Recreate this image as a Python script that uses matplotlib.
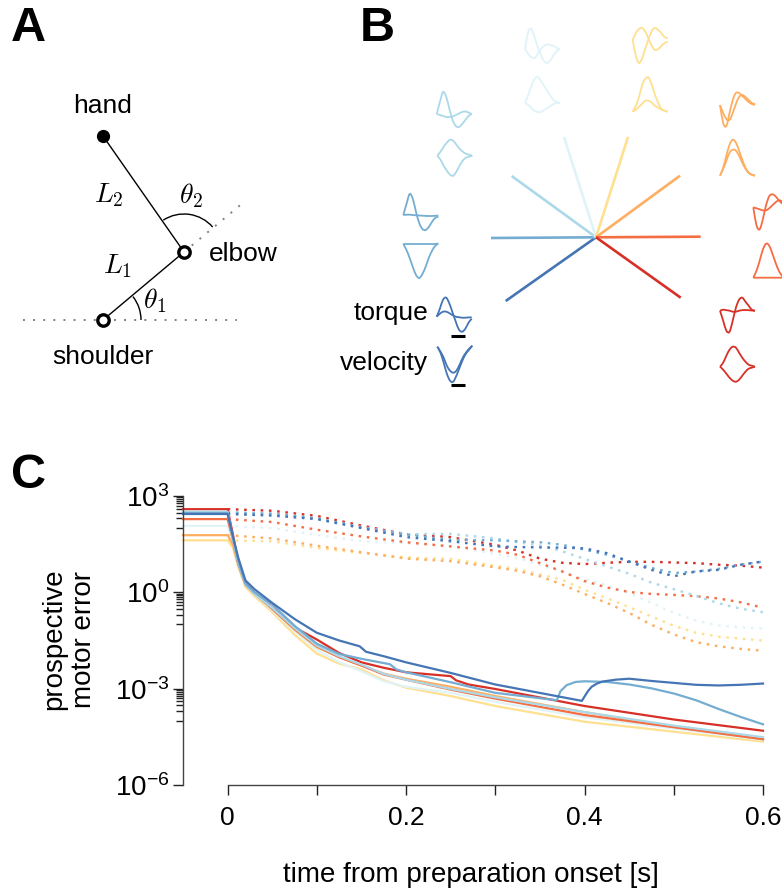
import numpy as np
import matplotlib
matplotlib.use("Agg")
import matplotlib.pyplot as plt
from matplotlib.patches import Arc, PathPatch
from matplotlib.path import Path

plt.rcParams['font.family'] = ['Liberation Sans', 'DejaVu Sans']
plt.rcParams['mathtext.fontset'] = 'cm'

W, H = 782, 892

# ---- reach directions, in the order of the legend fan
colors = {'d1': '#4575b4', 'd2': '#74add1', 'd3': '#abd9e9', 'd4': '#e0f3f8',
          'd5': '#fee090', 'd6': '#fdae61', 'd7': '#f46d43', 'd8': '#d73027'}
draw_order = ['d5', 'd4', 'd6', 'd7', 'd8', 'd3', 'd2', 'd1']

# ---- panel C: log10 prospective motor error, solid curves
t_common = [-.05, 0, .006, .012, .02, .03, .05, .075, .1, .125, .15, .175, .2, .25, .3, .4, .5, .6]
e_d7 = [2.28, 2.28, 1.64, .89, .26, -.02, -.51, -1.14, -1.68, -2.02, -2.28, -2.56, -2.72, -3.03, -3.31, -3.82, -4.20, -4.57]
e_d3 = [2.51, 2.51, 1.64, .89, .24, -.04, -.49, -1.11, -1.66, -1.99, -2.25, -2.54, -2.72, -3.01, -3.27, -3.73, -4.15, -4.51]
e_d6 = [1.78, 1.78, 1.48, .86, .22, -.05, -.52, -1.16, -1.71, -2.02, -2.28, -2.53, -2.69, -2.94, -3.23, -3.73, -4.19, -4.58]
e_d4 = [2.07, 2.07, 1.55, .86, .21, -.07, -.56, -1.21, -1.80, -2.17, -2.46, -2.77, -2.94, -3.13, -3.41, -3.89, -4.24, -4.60]
e_d5 = [1.62, 1.62, 1.38, .79, .17, -.12, -.62, -1.32, -1.91, -2.22, -2.40, -2.74, -2.97, -3.23, -3.54, -4.03, -4.34, -4.65]

t_d8 = [-.05, 0, .006, .012, .02, .03, .05, .075, .1, .125, .15, .175, .2, .25, .256, .27, .3, .4, .5, .6]
e_d8 = [2.59, 2.59, 1.79, .89, .29, 0, -.49, -1.09, -1.47, -1.89, -2.18, -2.35, -2.49, -2.61, -2.74, -2.87, -3.01, -3.54, -3.96, -4.31]

t_d1 = [-.05, 0, .006, .012, .02, .03, .05, .075, .1, .125, .148, .155, .175, .2, .25, .3, .397, .401, .404, .408, .414, .42, .435, .45, .475, .5, .525, .55, .575, .6]
e_d1 = [2.44, 2.44, 1.74, 1.07, .37, .10, -.33, -.83, -1.26, -1.50, -1.68, -1.85, -1.99, -2.18, -2.51, -2.87, -3.38, -3.20, -3.07, -2.94, -2.84, -2.78, -2.72, -2.69, -2.76, -2.82, -2.88, -2.90, -2.88, -2.84]

t_d2 = [-.05, 0, .006, .012, .02, .03, .05, .075, .1, .125, .15, .182, .189, .2, .25, .3, .369, .373, .38, .39, .4, .425, .45, .475, .5, .525, .55, .575, .6]
e_d2 = [2.47, 2.47, 1.69, .96, .27, 0, -.38, -1.04, -1.60, -1.92, -2.07, -2.24, -2.40, -2.49, -2.80, -3.13, -3.36, -3.08, -2.89, -2.79, -2.77, -2.79, -2.87, -2.99, -3.15, -3.36, -3.63, -3.88, -4.11]

solid_t = {'d1': t_d1, 'd2': t_d2, 'd3': t_common, 'd4': t_common, 'd5': t_common,
           'd6': t_common, 'd7': t_common, 'd8': t_d8}
solid_e = {'d1': e_d1, 'd2': e_d2, 'd3': e_d3, 'd4': e_d4, 'd5': e_d5,
           'd6': e_d6, 'd7': e_d7, 'd8': e_d8}

# ---- panel C: dotted curves
t_dot = [0, .05, .1, .15, .2, .25, .3, .325, .35, .375, .4, .425, .45, .475, .5, .525, .55, .575, .6]
dot_d8 = [2.59, 2.54, 2.38, 2.08, 1.81, 1.72, 1.48, 1.30, 1.05, .92, .88, .92, .95, .95, .93, .91, .86, .83, .77]
dot_d1 = [2.44, 2.39, 2.28, 2.00, 1.72, 1.59, 1.43, 1.41, 1.40, 1.39, 1.37, 1.22, .96, .70, .50, .65, .70, .86, .96]
dot_d2 = [2.47, 2.45, 2.30, 2.03, 1.79, 1.64, 1.62, 1.59, 1.56, 1.48, 1.33, 1.17, .96, .76, .60, .65, .73, .86, .96]
dot_d3 = [2.51, 2.45, 2.30, 2.03, 1.81, 1.82, 1.68, 1.56, 1.46, 1.28, 1.04, .81, .58, .30, .10, -.11, -.34, -.51, -.62]
dot_d7 = [2.28, 2.19, 1.95, 1.74, 1.56, 1.43, 1.30, 1.17, .91, .65, .35, .15, .01, -.05, -.08, -.12, -.19, -.31, -.48]
dot_d4 = [2.07, 2.00, 1.79, 1.59, 1.53, 1.43, 1.20, 1.07, .86, .65, .41, .22, -.02, -.33, -.64, -.88, -1.03, -1.09, -1.13]
dot_d6 = [1.78, 1.68, 1.45, 1.25, 1.05, .97, .78, .67, .50, .24, -.05, -.33, -.64, -1.01, -1.31, -1.55, -1.68, -1.76, -1.82]
dot_d5 = [1.62, 1.59, 1.38, 1.22, 1.09, 1.04, .83, .73, .56, .39, .08, -.18, -.46, -.75, -1.04, -1.26, -1.38, -1.44, -1.50]
dot_e = {'d1': dot_d1, 'd2': dot_d2, 'd3': dot_d3, 'd4': dot_d4, 'd5': dot_d5,
         'd6': dot_d6, 'd7': dot_d7, 'd8': dot_d8}

x_ticks = [0, .1, .2, .3, .4, .5, .6]
x_tick_labels = ['0', '', '0.2', '', '0.4', '', '0.6']
y_exponents = [3, 0, -3, -6]
minor_subs = [1, 2, 3, 4, 5, 6, 7, 8, 9]

# ---- panel B: fan end points (reach endpoints, px)
fan_centre = (596, 237.3)
fan_ends = {'d1': (505.7, 301), 'd2': (491, 238), 'd3': (511.7, 176), 'd4': (564, 137),
            'd5': (628, 137), 'd6': (680, 175.7), 'd7': (700.7, 236.7), 'd8': (680.7, 297.7)}

# ---- panel B: small traces (a.u.)
trace_s = np.linspace(0, 1, 12)
tq_d1 = ([0, 8, 17, 19, 13, 4, -5, -13, -15, -12, -6, -2], [0, 3, 5, 5, 3.5, 1.5, 0, -.5, -1, -1, -.7, -.7])
vl_d1 = ([0, -6, -16, -27, -34, -35, -29, -21, -13, -7, -3, 1], [0, -5, -11, -19, -24, -26, -24, -18, -11, -6, -2, 1])
tq_d2 = ([0, 11, 21, 16, 3, -8, -14, -15, -12, -7, -3, -1.7], [0, .3, .3, 0, -.3, -.5, -.7, -.9, -1, -1, -.8, -.6])
vl_d2 = ([0, -6, -14, -23, -31, -34, -30, -23, -14, -7, -2, .5], [0, 0, 0, 0, 0, 0, 0, 0, 0, 0, 0, .5])
tq_d3 = ([0, 12, 22, 17, 5, -6, -12, -13, -10, -6, -2, 0], [0, -1, -2, -3, -3, -2.5, -1, .5, 2, 2.5, 1.5, 0])
vl_d3 = ([0, 4, 9, 13, 16, 15, 11, 7, 4, 2, 1, 0], [0, -4, -10, -15, -19, -20, -16, -10, -5, -2, -1, 0])
tq_d4 = ([0, 17, 20, 12, 2, -6, -12, -14, -11, -6, -2, 0], [0, -5, -8, -9, -5, 0, 3, 4.5, 4, 3, 1, 0])
vl_d4 = ([0, 8, 17, 24, 26, 22, 17, 12, 7, 3, 1, 0], [0, -2, -5, -8, -9, -9, -7, -5, -3, -1, 0, 0])
tq_d5 = ([0, 7, 11, 12, 8, 1, -6, -10, -9, -6, -3, -2], [0, -16, -23, -18, -8, 1, 9, 12, 10, 7, 3, 2])
vl_d5 = ([0, 6, 15, 27, 33, 34, 27, 17, 9, 3, 1, 0], [0, 2, 5, 8, 11, 11, 9, 6, 4, 2, 1, 0])
tq_d6 = ([0, -18, -21, -8, 5, 12, 12, 9, 6, 3, 1, 0], [0, -8, -14, -15, -8, 1, 8, 10, 8, 5, 2, 1])
vl_d6 = ([0, 8, 20, 31, 36, 33, 25, 16, 8, 3, 1, 0], [0, 7, 15, 23, 26, 25, 20, 13, 7, 3, 1, 0])
tq_d7 = ([0, -18, -22, -12, 2, 11, 13, 11, 7, 4, 2, 0], [0, -1, -2, -3, -3, -1, 2, 5, 7, 6, 3, 0])
vl_d7 = ([0, 7, 17, 28, 34, 32, 24, 15, 7, 2, 0, 0], [0, 0, 0, 0, 0, 0, 0, 0, 0, 0, 0, 0])
tq_d8 = ([0, -10, -20, -21, -10, 3, 11, 13, 9, 5, 1, 0], [0, 1, .5, 0, -1, -1, 0, .5, .7, .5, .2, 0])
vl_d8 = ([0, 4, 11, 17, 20, 19, 14, 9, 5, 2, 1, 0], [0, -3, -7, -11, -14, -15, -13, -9, -5, -2, -1, 0])

torque = {'d1': tq_d1, 'd2': tq_d2, 'd3': tq_d3, 'd4': tq_d4, 'd5': tq_d5, 'd6': tq_d6, 'd7': tq_d7, 'd8': tq_d8}
velocity = {'d1': vl_d1, 'd2': vl_d2, 'd3': vl_d3, 'd4': vl_d4, 'd5': vl_d5, 'd6': vl_d6, 'd7': vl_d7, 'd8': vl_d8}
torque_pos = {'d1': (436.7, 316.7), 'd2': (403.3, 215), 'd3': (436.7, 114), 'd4': (525, 49),
              'd5': (632.7, 40), 'd6': (720, 105), 'd7': (753.3, 207.3), 'd8': (720, 310.7)}
velocity_pos = {'d1': (437.3, 346.7), 'd2': (403.3, 244), 'd3': (437.3, 155.7), 'd4': (525, 103),
                'd5': (632.7, 111.7), 'd6': (720, 175.7), 'd7': (753.3, 277.7), 'd8': (720, 366.7)}
TRACE_W = 35


def smooth_path(x, y):
    """Bezier path through the given points (Catmull-Rom tangents)."""
    pts = np.column_stack([x, y])
    tang = np.gradient(pts, axis=0)
    verts, codes = [pts[0]], [Path.MOVETO]
    for i in range(len(pts) - 1):
        verts += [pts[i] + tang[i] / 3, pts[i + 1] - tang[i + 1] / 3, pts[i + 1]]
        codes += [Path.CURVE4] * 3
    return Path(verts, codes)


fig = plt.figure(figsize=(W / 100, H / 100), dpi=100)

# overlay in pixel coordinates for the schematic panels
ov = fig.add_axes([0, 0, 1, 1])
ov.set_xlim(0, W)
ov.set_ylim(H, 0)
ov.axis('off')

FS = 19
FSL = 20
for lab, x, y in [('A', 11, 41), ('B', 360, 41), ('C', 11, 488)]:
    ov.text(x, y, lab, fontsize=35, fontweight='bold', ha='left', va='baseline')

# ---- panel A
shoulder = (103, 320)
elbow = (184, 252)
hand = (103, 136)
ov.plot([23, 237], [320, 320], color='#808080', lw=1.4, ls=(0, (1, 4.2)), zorder=1)
ov.plot([elbow[0], 244], [elbow[1], 202], color='#808080', lw=1.4, ls=(0, (1, 4.2)), zorder=1)
ov.plot([shoulder[0], elbow[0], hand[0]], [shoulder[1], elbow[1], hand[1]], color='k', lw=1.0, zorder=2)
ov.plot(*hand, 'o', ms=8.5, color='k', zorder=3)
for p in (shoulder, elbow):
    ov.plot(*p, 'o', ms=8.2, mfc='white', mec='k', mew=2.4, zorder=3)
# y axis of the overlay is inverted, so angles run clockwise on screen
ov.add_patch(Arc(shoulder, 76, 76, theta1=-38, theta2=0, color='k', lw=1.0))
ov.add_patch(Arc(elbow, 76, 76, theta1=-123, theta2=-41, color='k', lw=1.0))
ov.text(103, 106, 'hand', fontsize=FS, ha='center', va='center')
ov.text(243, 254, 'elbow', fontsize=FS, ha='center', va='center')
ov.text(103, 357, 'shoulder', fontsize=FS, ha='center', va='center')
ov.text(109, 195, r'$L_2$', fontsize=20, ha='center', va='center')
ov.text(118, 266, r'$L_1$', fontsize=20, ha='center', va='center')
ov.text(191, 196, r'$\theta_2$', fontsize=20, ha='center', va='center')
ov.text(155, 301, r'$\theta_1$', fontsize=20, ha='center', va='center')

# ---- panel B
for k, c in colors.items():
    ex, ey = fan_ends[k]
    ov.plot([fan_centre[0], ex], [fan_centre[1], ey], color=c, lw=1.9, solid_capstyle='butt')
    for dct, pos in ((torque, torque_pos), (velocity, velocity_pos)):
        x0, y0 = pos[k]
        for curve in dct[k]:
            ov.add_patch(PathPatch(smooth_path(x0 + TRACE_W * trace_s, y0 - np.array(curve)),
                                   fc='none', ec=c, lw=1.3, clip_on=True))
ov.plot([451, 465], [335.7, 335.7], color='k', lw=2.2, solid_capstyle='butt')
ov.plot([451, 465], [384.7, 384.7], color='k', lw=2.2, solid_capstyle='butt')
ov.text(428, 313, 'torque', fontsize=FS, ha='right', va='center')
ov.text(428, 363, 'velocity', fontsize=FS, ha='right', va='center')

# ---- panel C
ax = fig.add_axes([183 / W, 1 - 785 / H, (763 - 183) / W, (785 - 496) / H])
ax.patch.set_alpha(0)
for k in draw_order:
    ax.plot(t_dot, 10.0 ** np.array(dot_e[k]), color=colors[k], lw=1.7, ls=(0, (1.1, 2.4)), clip_on=False)
for k in draw_order:
    ax.plot(solid_t[k], 10.0 ** np.array(solid_e[k]), color=colors[k], lw=1.6, clip_on=False)

ax.set_yscale('log')
ax.set_xlim(-0.05, 0.6)
ax.set_ylim(1e-6, 1e3)
for s in ('top', 'right'):
    ax.spines[s].set_visible(False)
ax.spines['bottom'].set_bounds(0, 0.6)
for s in ('left', 'bottom'):
    ax.spines[s].set_color('#444444')
    ax.spines[s].set_linewidth(1.0)
ax.set_xticks(x_ticks)
ax.set_xticklabels(x_tick_labels, fontsize=FS)
ax.set_yticks([10.0 ** e for e in y_exponents])
ax.set_yticklabels([r'$\mathregular{10^{%d}}$' % e if e >= 0 else r'$\mathregular{10^{-%d}}$' % -e
                    for e in y_exponents], fontsize=FSL)
minor = [s * 10.0 ** (e - 1) for e in y_exponents[:-1] for s in minor_subs]
ax.set_yticks(minor, minor=True)
ax.set_yticklabels([], minor=True)
ax.tick_params(axis='x', which='major', length=7, width=1, color='#222222', pad=8)
ax.tick_params(axis='y', which='major', length=7, width=1, color='#222222', pad=3)
ax.tick_params(axis='y', which='minor', length=5, width=1, color='#222222')

ov.text(471, 875, 'time from preparation onset [s]', fontsize=FSL, ha='center', va='center')
ov.text(54, 639, 'prospective', fontsize=FSL, ha='center', va='center', rotation=90)
ov.text(84, 639, 'motor error', fontsize=FSL, ha='center', va='center', rotation=90)

fig.savefig('out.png', dpi=100)
